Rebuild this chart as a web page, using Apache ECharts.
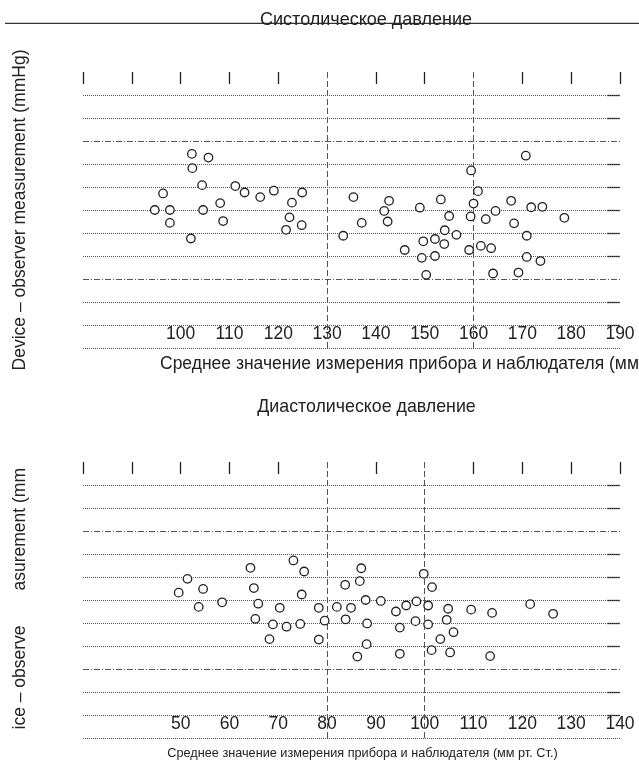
<!DOCTYPE html>
<html><head><meta charset="utf-8">
<script src="https://cdn.jsdelivr.net/npm/echarts@6/dist/echarts.min.js"></script>
<style>html,body{margin:0;padding:0;background:#fff}#c{width:639px;height:760px}</style>
</head><body><div id="c"></div>
<script>
// ---- data ----
const sysMean = [102.3,105.7,102.4,104.4,96.4,111.2,113.1,116.3,119.1,124.9,122.8,108.1,94.7,97.8,104.6,97.8,108.7,122.3,121.6,124.8,102.1,133.3,135.4,137.1,170.7,159.5,160.9,142.7,141.7,142.4,149.0,153.3,155.0,160.0,159.4,162.5,164.5,167.7,171.8,174.1,178.6,168.3,154.1,156.5,152.1,149.7,154.0,145.9,149.4,152.1,159.1,161.5,163.6,170.9,170.9,173.7,150.3,164.0,169.2];
const sysDiff = [12.2,11.4,9.1,5.4,3.6,5.2,3.8,2.8,4.2,3.8,1.6,1.5,0,0,0,-2.8,-2.4,-1.6,-4.3,-3.3,-6.2,-5.6,2.8,-2.8,11.8,8.6,4.1,2.0,-0.2,-2.5,0.5,2.3,-1.3,1.4,-1.4,-2.0,-0.2,2.0,0.6,0.7,-1.7,-2.9,-4.4,-5.4,-6.3,-6.8,-7.4,-8.7,-10.4,-10.0,-8.7,-7.8,-8.3,-5.6,-10.2,-11.1,-14.1,-13.8,-13.6];
const diaMean = [51.4,49.6,54.6,53.7,58.5,64.3,65.0,65.9,65.3,73.1,75.3,74.8,70.3,68.9,71.7,74.5,68.2,78.3,79.5,78.3,82.0,83.7,87.0,86.7,84.9,83.8,87.9,88.2,88.1,86.2,91.0,99.8,101.5,98.3,96.2,94.1,100.7,104.8,109.5,113.8,121.6,126.3,98.1,100.7,104.5,94.9,105.9,103.2,94.9,101.4,105.2,113.4];
const diaDiff = [4.6,1.6,2.4,-1.5,-0.5,7.0,2.6,-0.8,-4.1,8.6,6.2,1.2,-1.7,-5.3,-5.8,-5.2,-8.5,-1.7,-4.5,-8.6,-1.5,3.3,6.9,4.1,-1.7,-4.2,0,-5.1,-9.6,-12.3,-0.2,5.7,2.8,-0.3,-1.2,-2.5,-1.2,-1.9,-2.1,-2.8,-0.9,-3.0,-4.6,-5.3,-4.3,-6.0,-7.0,-8.5,-11.7,-10.9,-11.4,-12.2];

const sysTickLabels = [100,110,120,130,140,150,160,170,180,190];
const diaTickLabels = [50,60,70,80,90,100,110,120,130,140];
const sysTopTicks = [80,90,100,110,120,140,150,170,180,190];
const diaTopTicks = [30,40,50,60,70,90,110,120,130,140];
const sysVLines = [130,160];
const diaVLines = [80,100];
const gridLines = [25,20,10,5,0,-5,-10,-20,-25,-30];
const limitLines = [15,-15];
const sideTicks = [25,20,10,5,0,-5,-10,-20,-25];

const sysTitle = 'Систолическое давление';
const diaTitle = 'Диастолическое давление';
const xName = 'Среднее значение измерения прибора и наблюдателя (мм рт. Ст.)';
const yName = 'Device – observer measurement (mmHg)';

// ---- build ----
const FONT = '"Liberation Sans", Arial, sans-serif';
const INK = '#222';
const LINE = '#555';

const grids = [
  {left:83, right:19, top:72, height:276},
  {left:83, right:19, top:462, height:276}
];
const panels = [
  {min:80, max:190, labels:sysTickLabels, topTicks:sysTopTicks, vlines:sysVLines, xs:sysMean, ys:sysDiff},
  {min:30, max:140, labels:diaTickLabels, topTicks:diaTopTicks, vlines:diaVLines, xs:diaMean, ys:diaDiff}
];
const xAxis = [], yAxis = [], series = [];
panels.forEach((p, i) => {
  xAxis.push({type:'value', gridIndex:i, min:p.min, max:p.max, interval:10, position:'bottom',
    axisLine:{show:false, onZero:false}, axisTick:{show:false}, splitLine:{show:false},
    axisLabel:{inside:true, margin:5, fontSize:17.5, color:INK, fontFamily:FONT,
      customValues:p.labels, formatter:v => p.labels.indexOf(v) >= 0 ? String(v) : ''}});
  xAxis.push({type:'value', gridIndex:i, min:p.min, max:p.max, interval:10, position:'top',
    axisLine:{show:false, onZero:false}, splitLine:{show:false}, axisLabel:{show:false},
    axisTick:{show:true, inside:true, length:12, lineStyle:{color:INK, width:1.3}, customValues:p.topTicks}});
  yAxis.push({type:'value', gridIndex:i, min:-30, max:30, interval:5, position:'left',
    axisLine:{show:false, onZero:false}, axisTick:{show:false}, axisLabel:{show:false}, splitLine:{show:false}});
  yAxis.push({type:'value', gridIndex:i, min:-30, max:30, interval:5, position:'right',
    axisLine:{show:false, onZero:false}, axisLabel:{show:false}, splitLine:{show:false},
    axisTick:{show:true, inside:true, length:13, lineStyle:{color:INK, width:1.3}, customValues:sideTicks}});
  const ml = [];
  gridLines.forEach(v => ml.push({yAxis:v, lineStyle:{type:[1,1], color:LINE, width:1}}));
  limitLines.forEach(v => ml.push({yAxis:v, lineStyle:{type:[6,2,1,2], color:LINE, width:1}}));
  p.vlines.forEach(v => ml.push({xAxis:v, lineStyle:{type:[6,3], color:LINE, width:1}}));
  series.push({type:'scatter', xAxisIndex:2*i, yAxisIndex:2*i, data:[], z:1,
    markLine:{silent:true, symbol:['none','none'], label:{show:false}, animation:false, data:ml}});
  series.push({type:'scatter', xAxisIndex:2*i, yAxisIndex:2*i, z:10, symbol:'circle', symbolSize:8.5,
    itemStyle:{color:'#fff', borderColor:INK, borderWidth:1.3, opacity:1},
    data:p.xs.map((x, k) => [x, p.ys[k]])});
});

const txt = (o) => ({type:'text', silent:true, z:20, ...o,
  style:{fill:INK, font:o.fs + 'px ' + FONT, textAlign:o.align || 'center', textVerticalAlign:'middle', text:o.text}});

const graphic = [
  {type:'line', silent:true, z:5, shape:{x1:5, y1:23.3, x2:639, y2:23.3}, style:{stroke:'#333', lineWidth:1.3}},
  txt({text:sysTitle, x:366, y:20.5, fs:18}),
  txt({text:diaTitle, x:366.5, y:407, fs:17.8}),
  txt({text:xName, x:160, y:364, fs:17.5, align:'left'}),
  txt({text:xName, x:362.5, y:753, fs:12.7}),
  txt({text:yName, x:20.5, y:210, fs:17.5, rotation:Math.PI/2}),
  txt({text:'ice – observe', x:20.5, y:729.5, fs:17.5, align:'left', rotation:Math.PI/2}),
  txt({text:'asurement (mm', x:20.5, y:590.5, fs:17.5, align:'left', rotation:Math.PI/2})
];

const chart = echarts.init(document.getElementById('c'), null, {renderer:'canvas'});
chart.setOption({animation:false, backgroundColor:'#fff', grid:grids, xAxis, yAxis, series, graphic});
</script></body></html>
